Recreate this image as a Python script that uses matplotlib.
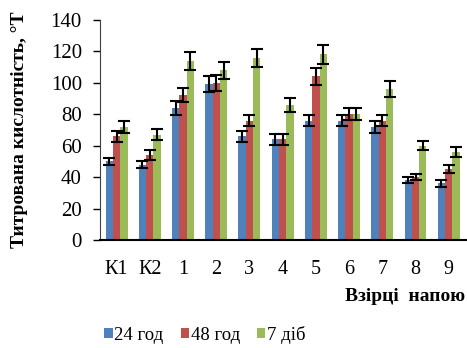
import matplotlib.pyplot as plt
import numpy as np

plt.rcParams['font.family'] = ['Liberation Serif', 'DejaVu Serif']

categories = ['К1', 'К2', '1', '2', '3', '4', '5', '6', '7', '8', '9']
series_names = ['24 год', '48 год', '7 діб']
v_24 = [50, 48, 84, 99, 66, 64, 76, 76, 72, 38, 36]
v_48 = [66, 54, 92, 100, 76, 64, 104, 80, 76, 40, 45]
v_7d = [72, 67, 114, 108, 116, 86, 118, 80, 96, 60, 56]
e_24 = [2.5, 2, 4.5, 5, 3.4, 3.4, 3.7, 3.7, 3.7, 2, 2]
e_48 = [3.4, 3, 4.5, 5, 3.7, 3.4, 5.2, 3.8, 3.7, 2, 2.5]
e_7d = [3.9, 3.4, 5.7, 5.4, 5.7, 4.3, 5.9, 3.8, 4.9, 3, 3]
colors = ['#4F81BD', '#C0504D', '#9BBB59']

fig = plt.figure(figsize=(4.67, 3.48), dpi=100)
ax = fig.add_axes([0.214, 0.31, 0.786, 0.633])

x = np.arange(len(categories))
w = 0.22
for i, (vals, errs) in enumerate(zip([v_24, v_48, v_7d], [e_24, e_48, e_7d])):
    ax.bar(x + (i - 1) * w, vals, w, color=colors[i], label=series_names[i],
           yerr=errs, capsize=4,
           error_kw=dict(ecolor='black', elinewidth=1.5, capthick=1.5))

ax.set_xlim(-0.5, len(categories) - 0.45)
ax.set_ylim(0, 140)
ax.set_yticks(range(0, 141, 20))
ax.set_xticks(x)
ax.set_xticklabels(categories)
ax.tick_params(axis='x', length=0, pad=14, labelsize=14.5)
ax.tick_params(axis='y', direction='out', length=5, width=1, labelsize=15, pad=8)
for s in ['top', 'right']:
    ax.spines[s].set_visible(False)
ax.spines['left'].set_color('#404040')
ax.spines['bottom'].set_color('black')
ax.spines['bottom'].set_linewidth(1.5)

ax.set_ylabel('Титрована кислотність, °Т', fontsize=14, fontweight='bold', labelpad=16)
fig.text(0.995, 0.148, 'Взірці  напою', ha='right', va='center',
         fontsize=14, fontweight='bold')

fig.legend(loc='center left', bbox_to_anchor=(0.203, 0.037), ncol=3, frameon=False,
           fontsize=13.5, borderpad=0, handlelength=0.45, handleheight=0.45,
           handletextpad=0.1, columnspacing=0.9)

fig.savefig('out.png', dpi=100)
